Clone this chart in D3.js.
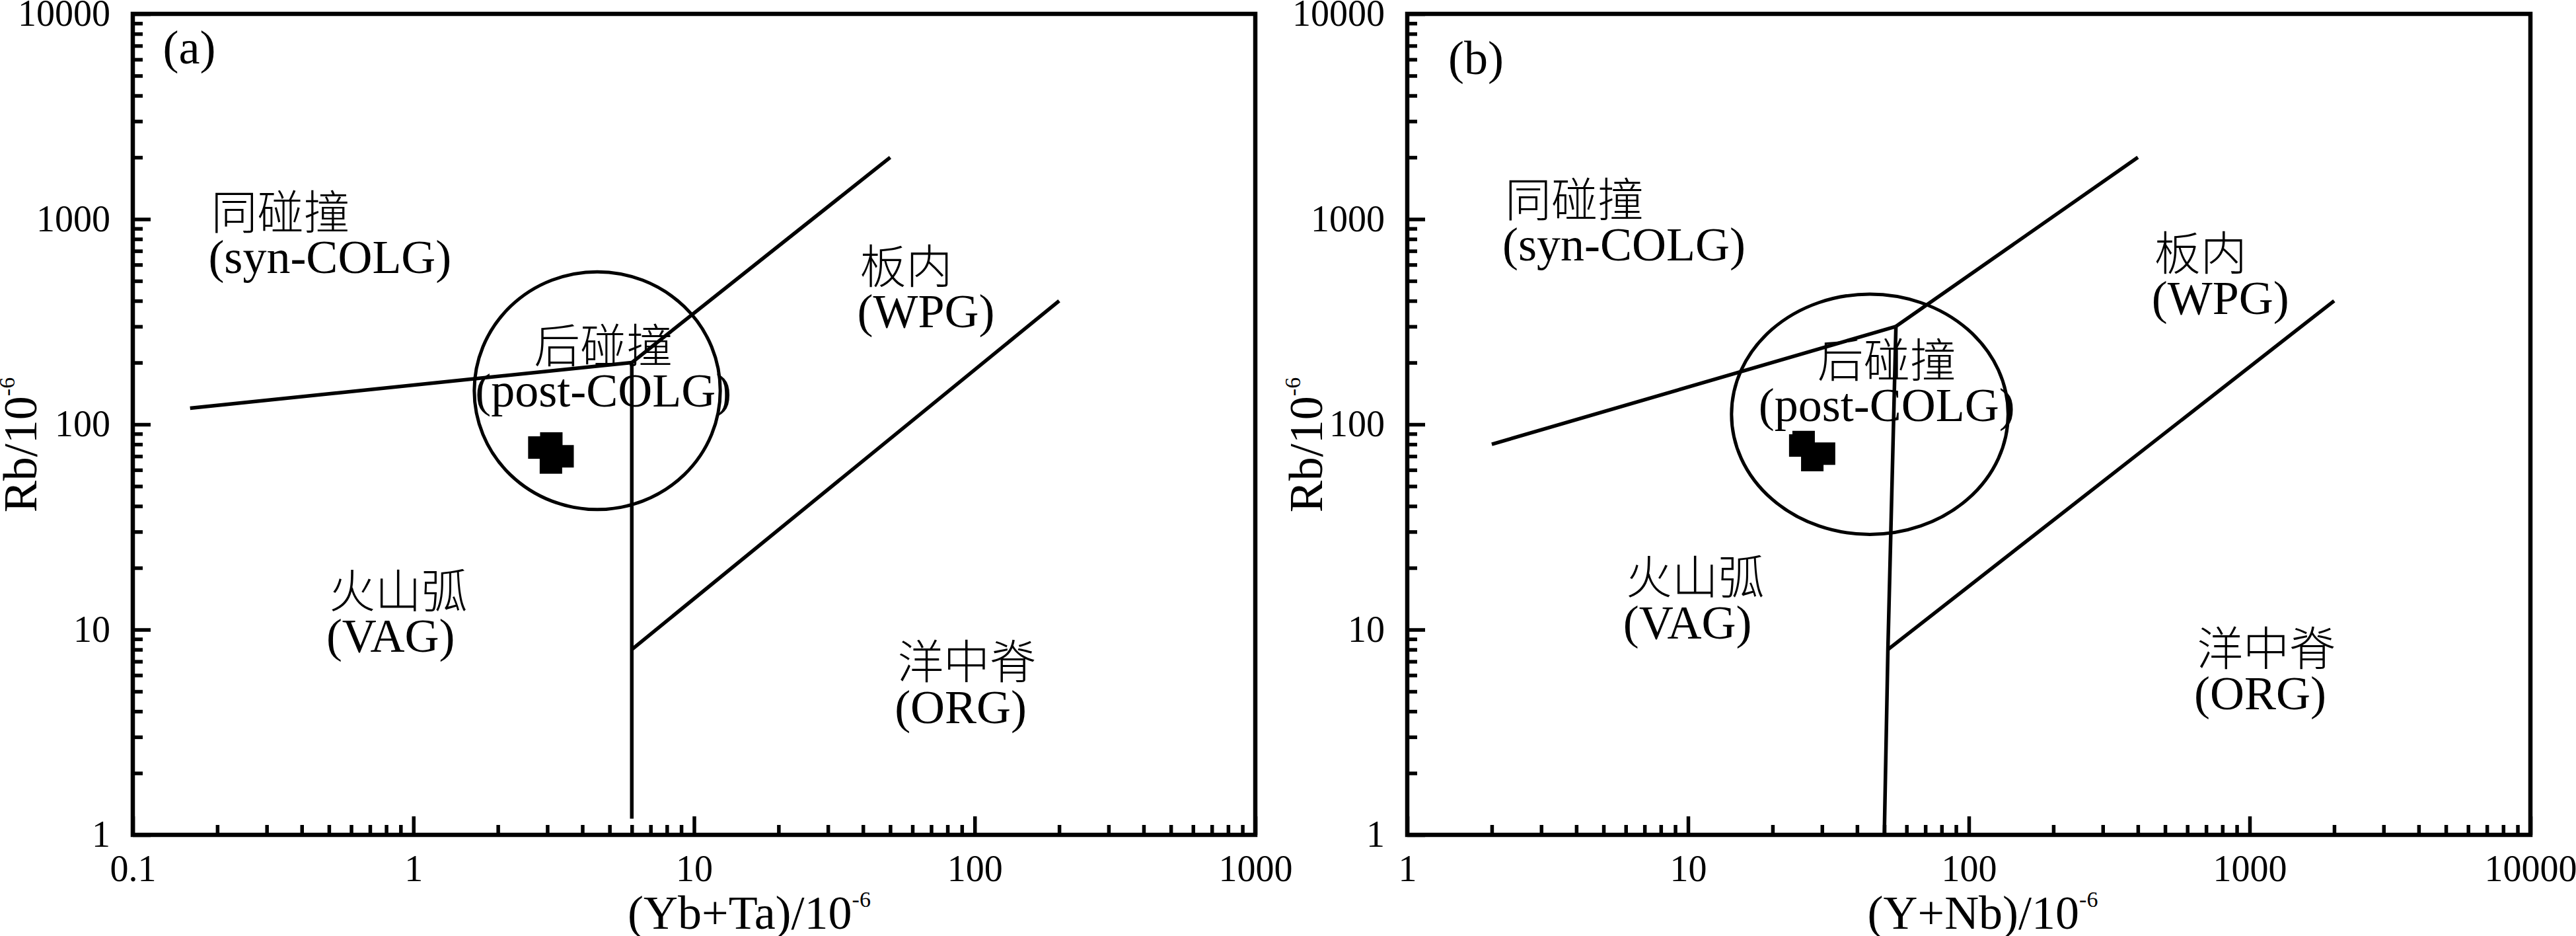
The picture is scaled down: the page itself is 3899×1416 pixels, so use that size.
<!DOCTYPE html>
<html>
<head>
<meta charset="utf-8">
<script src="https://cdn.jsdelivr.net/npm/d3@7"></script>
<style>
  body { margin: 0; background: #fff; }
  text { font-family: "Liberation Serif", "Times New Roman", serif; fill: #000; }
  .cjk { font-family: "Noto Sans CJK SC", sans-serif; font-weight: 300; }
</style>
</head>
<body>
<svg id="chart" width="3899" height="1416"></svg>
<script>
// axis ticks
var xTicksA = [0.1, 1, 10, 100, 1000];
var xTicksB = [1, 10, 100, 1000, 10000];
var yTicks = [1, 10, 100, 1000, 10000];

// field boundaries (Pearce et al. 1984)
var boundsA = [
  [[0.16, 120], [6, 200]],
  [[6, 200], [50, 2000]],
  [[6, 200], [6, 8], [6, 1.2]],
  [[6, 8], [200, 400]]
];
var boundsB = [
  [[2, 80], [55, 300]],
  [[55, 300], [400, 2000]],
  [[55, 300], [51.5, 8], [50, 1]],
  [[51.5, 8], [2000, 400]]
];

// post-COLG field: centre, then right/top edge
var postFieldA = [[4.52, 146], [12.4, 554]];
var postFieldB = [[44.4, 112], [138, 431]];

// samples
var samplesA = [[2.81, 77.1], [3.10, 80.7], [3.40, 69.9], [3.09, 65.2]];
var samplesB = [[25.1, 78.9], [25.8, 82.0], [30.5, 72.0], [27.7, 67.0]];

// field labels
var fieldNames = ['同碰撞', '后碰撞', '板内', '火山弧', '洋中脊'];
var fieldCodes = ['(syn-COLG)', '(post-COLG)', '(WPG)', '(VAG)', '(ORG)'];
var fieldPosA = [[0.19, 1120], [4.75, 250], [39, 610], [0.5, 16], [53, 7.2]];
var fieldPosB = [[2.23, 1290], [51, 213], [458, 708], [6, 18.6], [648, 8.4]];

var panels = [
  { tag: '(a)', tagPos: [0.128, 5730], xTicks: xTicksA, bounds: boundsA, post: postFieldA,
    samples: samplesA, labels: fieldPosA, xTitle: '(Yb+Ta)/10',
    left: 201, right: 1900, titleX: 1134, yTitleX: 55 },
  { tag: '(b)', tagPos: [1.40, 5090], xTicks: xTicksB, bounds: boundsB, post: postFieldB,
    samples: samplesB, labels: fieldPosB, xTitle: '(Y+Nb)/10',
    left: 2130, right: 3830, titleX: 3001, yTitleX: 2001 }
];

var plotTop = 21, plotBottom = 1263;
var svg = d3.select('#chart');
svg.append('rect').attr('width', 3899).attr('height', 1416).attr('fill', '#fff');

function isMajor(v) {
  var l = Math.log10(v);
  return Math.abs(l - Math.round(l)) < 1e-9;
}

function styleAxis(g) {
  g.select('.domain').remove();
  g.attr('font-family', null).attr('font-size', 56);
  g.selectAll('line').attr('stroke', '#000').attr('stroke-width', 5.5);
}

panels.forEach(function (p) {
  var x = d3.scaleLog().domain([p.xTicks[0], p.xTicks[p.xTicks.length - 1]]).range([p.left, p.right]);
  var y = d3.scaleLog().domain([yTicks[0], yTicks[yTicks.length - 1]]).range([plotBottom, plotTop]);
  var g = svg.append('g');

  var xMinor = x.ticks().filter(function (d) { return !isMajor(d); });
  var yMinor = y.ticks().filter(function (d) { return !isMajor(d); });

  g.append('g').attr('transform', 'translate(0,' + plotBottom + ')')
    .call(d3.axisBottom(x).tickValues(xMinor).tickSize(-15).tickFormat(''))
    .call(styleAxis);
  g.append('g').attr('transform', 'translate(0,' + plotBottom + ')')
    .call(d3.axisBottom(x).tickValues(p.xTicks).tickSize(-28).tickPadding(30).tickFormat(d3.format('~g')))
    .call(styleAxis);
  g.append('g').attr('transform', 'translate(' + p.left + ',0)')
    .call(d3.axisLeft(y).tickValues(yMinor).tickSize(-15).tickFormat(''))
    .call(styleAxis);
  g.append('g').attr('transform', 'translate(' + p.left + ',0)')
    .call(d3.axisLeft(y).tickValues(yTicks).tickSize(-27).tickPadding(34).tickFormat(d3.format('~g')))
    .call(styleAxis);

  var line = d3.line().x(function (d) { return x(d[0]); }).y(function (d) { return y(d[1]); });
  g.selectAll('.bound').data(p.bounds).enter().append('path')
    .attr('d', line).attr('fill', 'none').attr('stroke', '#000')
    .attr('stroke-width', 5.5).attr('stroke-linejoin', 'round');

  var c = p.post[0], e = p.post[1];
  g.append('ellipse')
    .attr('cx', x(c[0])).attr('cy', y(c[1]))
    .attr('rx', x(e[0]) - x(c[0])).attr('ry', y(c[1]) - y(e[1]))
    .attr('fill', 'none').attr('stroke', '#000').attr('stroke-width', 5);

  var s = 34;
  g.selectAll('.pt').data(p.samples).enter().append('rect')
    .attr('x', function (d) { return x(d[0]) - s / 2; })
    .attr('y', function (d) { return y(d[1]) - s / 2; })
    .attr('width', s).attr('height', s).attr('fill', '#000');

  p.labels.forEach(function (pos, i) {
    var mid = i === 1;
    var lx = x(pos[0]), ly = y(pos[1]);
    g.append('text').attr('class', 'cjk')
      .attr('x', lx).attr('y', ly)
      .attr('dominant-baseline', 'central')
      .attr('text-anchor', mid ? 'middle' : 'start')
      .attr('font-size', 70).text(fieldNames[i]);
    g.append('text')
      .attr('x', mid ? lx : lx - 4).attr('y', ly + 97)
      .attr('text-anchor', mid ? 'middle' : 'start')
      .attr('font-size', 72).text(fieldCodes[i]);
  });

  g.append('text').attr('x', x(p.tagPos[0])).attr('y', y(p.tagPos[1]))
    .attr('font-size', 72).text(p.tag);

  // frame
  g.append('rect').attr('x', p.left).attr('y', plotTop)
    .attr('width', p.right - p.left).attr('height', plotBottom - plotTop)
    .attr('fill', 'none').attr('stroke', '#000').attr('stroke-width', 6.5);

  // axis titles
  var xt = g.append('text').attr('x', p.titleX).attr('y', 1405)
    .attr('text-anchor', 'middle').attr('font-size', 72).text(p.xTitle);
  xt.append('tspan').attr('dy', -33).attr('font-size', 34).text('-6');

  var yt = g.append('text')
    .attr('transform', 'translate(' + p.yTitleX + ',673) rotate(-90)')
    .attr('text-anchor', 'middle').attr('font-size', 72).text('Rb/10');
  yt.append('tspan').attr('dy', -33).attr('font-size', 34).text('-6');
});
</script>
</body>
</html>
